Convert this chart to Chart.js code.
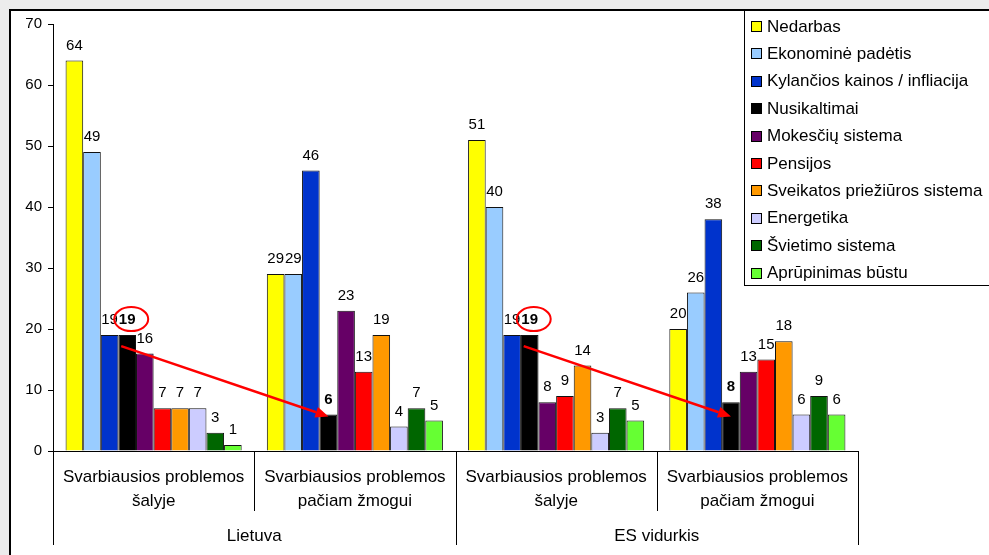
<!DOCTYPE html>
<html>
<head>
<meta charset="utf-8">
<script src="https://cdn.jsdelivr.net/npm/chart.js@4.4.1/dist/chart.umd.min.js"></script>
<style>
  html, body { margin: 0; padding: 0; background: #ececec; }
  #wrap { position: absolute; left: 0; top: 0; width: 989px; height: 555px; }
</style>
</head>
<body>
<div id="wrap"><canvas id="c" width="989" height="555"></canvas></div>
<script>
// ---- Data ----
const categories = [
  ['Svarbiausios problemos', 'šalyje'],
  ['Svarbiausios problemos', 'pačiam žmogui'],
  ['Svarbiausios problemos', 'šalyje'],
  ['Svarbiausios problemos', 'pačiam žmogui']
];
const groups = ['Lietuva', 'ES vidurkis'];
const seriesNames = [
  'Nedarbas', 'Ekonominė padėtis', 'Kylančios kainos / infliacija', 'Nusikaltimai',
  'Mokesčių sistema', 'Pensijos', 'Sveikatos priežiūros sistema', 'Energetika',
  'Švietimo sistema', 'Aprūpinimas būstu'
];
const seriesColors = [
  '#FFFF00', '#99CCFF', '#0033CC', '#000000', '#660066',
  '#FF0000', '#FF9900', '#CCCCFF', '#006600', '#66FF33'
];
const nedarbas     = [64, 29, 51, 20];
const ekonomine    = [49, 29, 40, 26];
const kylancios    = [19, 46, 19, 38];
const nusikaltimai = [19, 6, 19, 8];
const mokesciu     = [16, 23, 8, 13];
const pensijos     = [7, 13, 9, 15];
const sveikatos    = [7, 19, 14, 18];
const energetika   = [7, 4, 3, 6];
const svietimo     = [3, 7, 7, 9];
const aprupinimas  = [1, 5, 5, 6];
const seriesValues = [nedarbas, ekonomine, kylancios, nusikaltimai, mokesciu,
  pensijos, sveikatos, energetika, svietimo, aprupinimas];
const yTicks = [0, 10, 20, 30, 40, 50, 60, 70];
const boldSeries = 3; // Nusikaltimai labels are bold

const FONT = '"Liberation Sans", Arial, sans-serif';

const datasets = seriesNames.map((name, i) => ({
  label: name,
  data: seriesValues[i],
  backgroundColor: seriesColors[i],
  borderColor: '#111111',
  borderWidth: 1,
  borderSkipped: 'bottom',
  categoryPercentage: 0.875,
  barPercentage: 1.0
}));

const framePlugin = {
  id: 'frame',
  beforeDraw(chart) {
    const ctx = chart.ctx;
    ctx.save();
    ctx.fillStyle = '#ececec';
    ctx.fillRect(0, 0, chart.width, chart.height);
    ctx.fillStyle = '#ffffff';
    ctx.fillRect(10, 10, chart.width, chart.height);
    ctx.strokeStyle = '#000000';
    ctx.lineWidth = 2;
    ctx.beginPath();
    ctx.moveTo(10, chart.height + 5);
    ctx.lineTo(10, 10);
    ctx.lineTo(chart.width + 5, 10);
    ctx.stroke();
    ctx.restore();
  }
};

const labelsPlugin = {
  id: 'valueLabels',
  afterDatasetsDraw(chart) {
    const ctx = chart.ctx;
    ctx.save();
    ctx.textAlign = 'center';
    ctx.textBaseline = 'middle';
    ctx.fillStyle = '#000000';
    chart.data.datasets.forEach((ds, di) => {
      const meta = chart.getDatasetMeta(di);
      ctx.font = (di === boldSeries ? 'bold ' : '') + '15px ' + FONT;
      meta.data.forEach((bar, j) => {
        ctx.fillText(String(ds.data[j]), bar.x, bar.y - 15);
      });
    });
    ctx.restore();
  }
};

const annotPlugin = {
  id: 'annot',
  afterDraw(chart) {
    const ctx = chart.ctx;
    const meta = chart.getDatasetMeta(boldSeries);
    const y = chart.scales.y;
    ctx.save();
    ctx.strokeStyle = '#FF0000';
    ctx.fillStyle = '#FF0000';
    // ellipses around the bold "19" labels
    [0, 2].forEach(j => {
      const b = meta.data[j];
      ctx.lineWidth = 2;
      ctx.beginPath();
      ctx.ellipse(b.x + 4, b.y - 16, 17, 12, 0, 0, Math.PI * 2);
      ctx.stroke();
    });
    // arrows
    [[0, 1], [2, 3]].forEach(([a, bIdx]) => {
      const s = meta.data[a], e = meta.data[bIdx];
      const x1 = s.x - 6, y1 = s.y + 11;
      const x2 = e.x, y2 = y.getPixelForValue(6) + 2;
      const ang = Math.atan2(y2 - y1, x2 - x1);
      const hl = 13, hw = 5.5;
      const bx = x2 - hl * Math.cos(ang), by = y2 - hl * Math.sin(ang);
      ctx.lineWidth = 2.5;
      ctx.beginPath();
      ctx.moveTo(x1, y1);
      ctx.lineTo(bx, by);
      ctx.stroke();
      ctx.beginPath();
      ctx.moveTo(x2, y2);
      ctx.lineTo(bx + hw * Math.sin(ang), by - hw * Math.cos(ang));
      ctx.lineTo(bx - hw * Math.sin(ang), by + hw * Math.cos(ang));
      ctx.closePath();
      ctx.fill();
    });
    ctx.restore();
  }
};

const axisPlugin = {
  id: 'groupAxis',
  afterDraw(chart) {
    const ctx = chart.ctx;
    const area = chart.chartArea;
    const n = chart.data.labels.length;
    const step = (area.right - area.left) / n;
    ctx.save();
    ctx.strokeStyle = '#000000';
    ctx.lineWidth = 1;
    for (let i = 0; i <= n; i++) {
      const x = Math.round(area.left + i * step) + 0.5;
      const outer = (i % 2 === 0);
      ctx.beginPath();
      ctx.moveTo(x, area.bottom);
      ctx.lineTo(x, outer ? 545 : 511);
      ctx.stroke();
    }
    ctx.fillStyle = '#000000';
    ctx.font = '17px ' + FONT;
    ctx.textAlign = 'center';
    ctx.textBaseline = 'middle';
    groups.forEach((g, gi) => {
      const cx = area.left + (gi * 2 + 1) * step;
      ctx.fillText(g, cx, 536);
    });
    ctx.restore();
  }
};

const legendPlugin = {
  id: 'customLegend',
  afterDraw(chart) {
    const ctx = chart.ctx;
    ctx.save();
    ctx.fillStyle = '#ffffff';
    ctx.fillRect(744, 10, 260, 276);
    ctx.strokeStyle = '#000000';
    ctx.lineWidth = 1;
    ctx.strokeRect(744.5, 10.5, 260, 275);
    ctx.font = '17px ' + FONT;
    ctx.textBaseline = 'middle';
    ctx.textAlign = 'left';
    chart.data.datasets.forEach((ds, i) => {
      const cy = 26 + i * 27.4;
      ctx.fillStyle = ds.backgroundColor;
      ctx.fillRect(751, Math.round(cy - 5) , 11, 11);
      ctx.strokeStyle = '#000000';
      ctx.strokeRect(751.5, Math.round(cy - 5) + 0.5, 10, 10);
      ctx.fillStyle = '#000000';
      ctx.fillText(ds.label, 767, cy + 1);
    });
    ctx.restore();
  }
};

new Chart(document.getElementById('c'), {
  type: 'bar',
  data: { labels: categories, datasets },
  options: {
    responsive: false,
    devicePixelRatio: 1,
    animation: false,
    layout: { padding: { left: 0, right: 131, top: 24, bottom: 0 } },
    plugins: { legend: { display: false }, tooltip: { enabled: false } },
    scales: {
      x: {
        grid: { display: false, drawTicks: false },
        border: { display: true, color: '#000000', width: 1 },
        ticks: {
          color: '#000000',
          font: { family: FONT, size: 17, lineHeight: 1.37 },
          padding: 15,
          maxRotation: 0,
          autoSkip: false
        },
        afterFit(scale) { scale.height = 104; }
      },
      y: {
        min: 0, max: 70,
        afterBuildTicks(scale) { scale.ticks = yTicks.map(v => ({ value: v })); },
        grid: { display: true, drawOnChartArea: false, drawTicks: true, tickLength: 5, color: '#000000' },
        border: { display: true, color: '#000000', width: 1 },
        ticks: {
          color: '#000000',
          font: { family: FONT, size: 15 },
          padding: 6
        },
        afterFit(scale) { scale.width = 53; }
      }
    }
  },
  plugins: [framePlugin, labelsPlugin, annotPlugin, axisPlugin, legendPlugin]
});
</script>
</body>
</html>
